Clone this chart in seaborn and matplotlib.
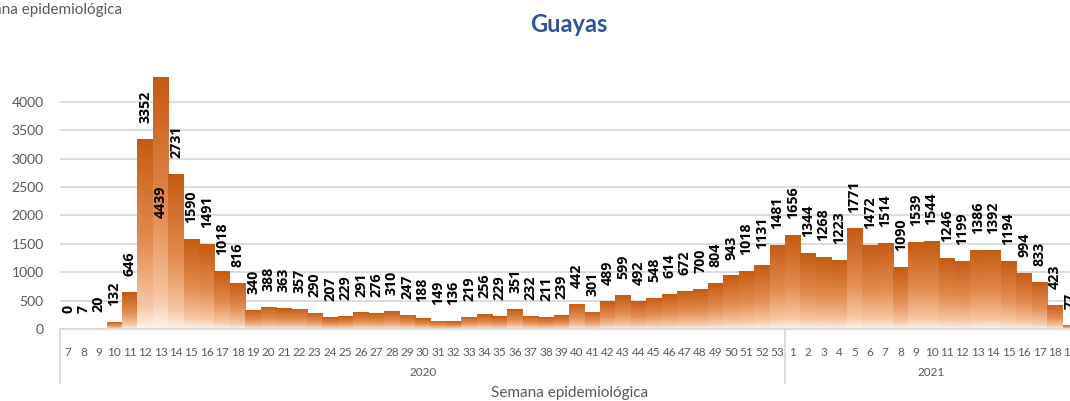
import numpy as np
import pandas as pd
import matplotlib
matplotlib.use("Agg")
import matplotlib.pyplot as plt
from matplotlib.colors import LinearSegmentedColormap
import seaborn as sns

# ---------------- data ----------------
weeks_2020 = list(range(7, 54))
cases_2020 = [0, 7, 20, 132, 646, 3352, 4439, 2731, 1590, 1491, 1018, 816,
              340, 388, 363, 357, 290, 207, 229, 291, 276, 310, 247, 188,
              149, 136, 219, 256, 229, 351, 232, 211, 239, 442, 301, 489,
              599, 492, 548, 614, 672, 700, 804, 943, 1018, 1131, 1481]
weeks_2021 = list(range(1, 20))
cases_2021 = [1656, 1344, 1268, 1223, 1771, 1472, 1514, 1090, 1539, 1544,
              1246, 1199, 1386, 1392, 1194, 994, 833, 423, 77]
years = ["2020", "2021"]
y_ticks = [0, 500, 1000, 1500, 2000, 2500, 3000, 3500, 4000]
title = "Guayas"
xlabel = "Semana epidemiológica"

df = pd.DataFrame({
    "key": [f"2020-{w}" for w in weeks_2020] + [f"2021-{w}" for w in weeks_2021],
    "week": weeks_2020 + weeks_2021,
    "year": ["2020"] * len(weeks_2020) + ["2021"] * len(weeks_2021),
    "cases": cases_2020 + cases_2021,
})

# ---------------- style ----------------
sns.set_theme(style="white")
plt.rcParams["font.family"] = ["Lato", "DejaVu Sans"]

W, H = 1070, 401
fig = plt.figure(figsize=(W / 100, H / 100), dpi=100)
ax_left, ax_right = 60.3, 1078.0
ax_bottom_px, ax_top_px = 329.0, 73.6
axis_h_px = ax_bottom_px - ax_top_px
ax = fig.add_axes([ax_left / W, (H - ax_bottom_px) / H,
                   (ax_right - ax_left) / W, axis_h_px / H])

sns.barplot(data=df, x="key", y="cases", ax=ax, color="#C55A11",
            width=1.0, saturation=1, linewidth=0, errorbar=None)

n = len(df)

# gradient fill per bar
cmap = LinearSegmentedColormap.from_list(
    "orange_grad",
    [(0.0, "#FDF3EC"), (0.12, "#F6C7A4"), (0.45, "#E38D52"), (1.0, "#C55A11")])
grad = np.linspace(0, 1, 256).reshape(-1, 1)
for p in list(ax.patches):
    x0, w, h = p.get_x(), p.get_width(), p.get_height()
    if h <= 0:
        continue
    im = ax.imshow(grad, extent=[x0, x0 + w, 0, h], origin="lower",
                   aspect="auto", cmap=cmap, zorder=2.1, interpolation="bilinear")
    im.set_clip_path(p)
ax.set_xlim(-0.5, n - 0.5)
ax.set_ylim(0, 4500)
ax.set_aspect("auto")

# grid & spines
ax.set_yticks(y_ticks)
ax.yaxis.grid(True, color="#D9D9D9", linewidth=1.3)
ax.set_axisbelow(True)
for s in ["top", "right", "left"]:
    ax.spines[s].set_visible(False)
ax.spines["bottom"].set_color("#D9D9D9")
ax.spines["bottom"].set_linewidth(1.3)

ax.tick_params(axis="y", length=0, labelsize=10, labelcolor="#595959", pad=12)
ax.set_xticks(range(n))
ax.set_xticklabels([str(w) for w in df["week"]])
ax.tick_params(axis="x", length=0, labelsize=8.5, labelcolor="#595959", pad=13)
ax.set_xticks(np.arange(-0.5, n, 0.5), minor=True)
ax.tick_params(axis="x", which="minor", length=3, color="#D9D9D9", width=1)
ax.set_ylabel("")
ax.set_xlabel("")

# data labels
lab_font = ["Open Sans", "DejaVu Sans"]
for i, v in enumerate(df["cases"]):
    if v > 4000:
        ax.annotate(str(v), (i, v), xytext=(0, -101.5), textcoords="offset points",
                    rotation=90, ha="center", va="bottom", fontsize=10.3,
                    family=lab_font, fontweight="bold", color="black", zorder=5)
    else:
        ax.annotate(str(v), (i, v), xytext=(0, 11.5), textcoords="offset points",
                    rotation=90, ha="center", va="bottom", fontsize=10.3,
                    family=lab_font, fontweight="bold", color="black", zorder=5,
                    annotation_clip=False)

# multi-level category axis: year labels & separators
trans = ax.get_xaxis_transform()
n20 = len(weeks_2020)
sep_bottom = -(383 - ax_bottom_px) / axis_h_px
for xs in [-0.5, n20 - 0.5]:
    ax.plot([xs, xs], [0, sep_bottom], transform=trans, color="#D9D9D9",
            linewidth=1.3, clip_on=False)
year_y = -(373 - ax_bottom_px) / axis_h_px
ax.text((n20 - 1) / 2, year_y, years[0], transform=trans, ha="center",
        va="center", fontsize=8.5, color="#595959")
ax.text((n20 + n - 1) / 2, year_y, years[1], transform=trans, ha="center",
        va="center", fontsize=8.5, color="#595959")
xl_y = -(393 - ax_bottom_px) / axis_h_px
ax.text((n - 1) / 2, xl_y, xlabel, transform=trans, ha="center", va="center",
        fontsize=11, color="#595959")

# title
title_y = (ax_bottom_px - 25) / axis_h_px
ax.text((n - 1) / 2, title_y, title, transform=trans,
        ha="center", va="center", fontsize=17, fontweight="bold", color="#2F5597")

# leftover cropped text at top-left
fig.text(122 / W, 1 - 10 / H, xlabel, ha="right", va="center", fontsize=11,
         color="#595959")

fig.savefig("out.png", dpi=100)
